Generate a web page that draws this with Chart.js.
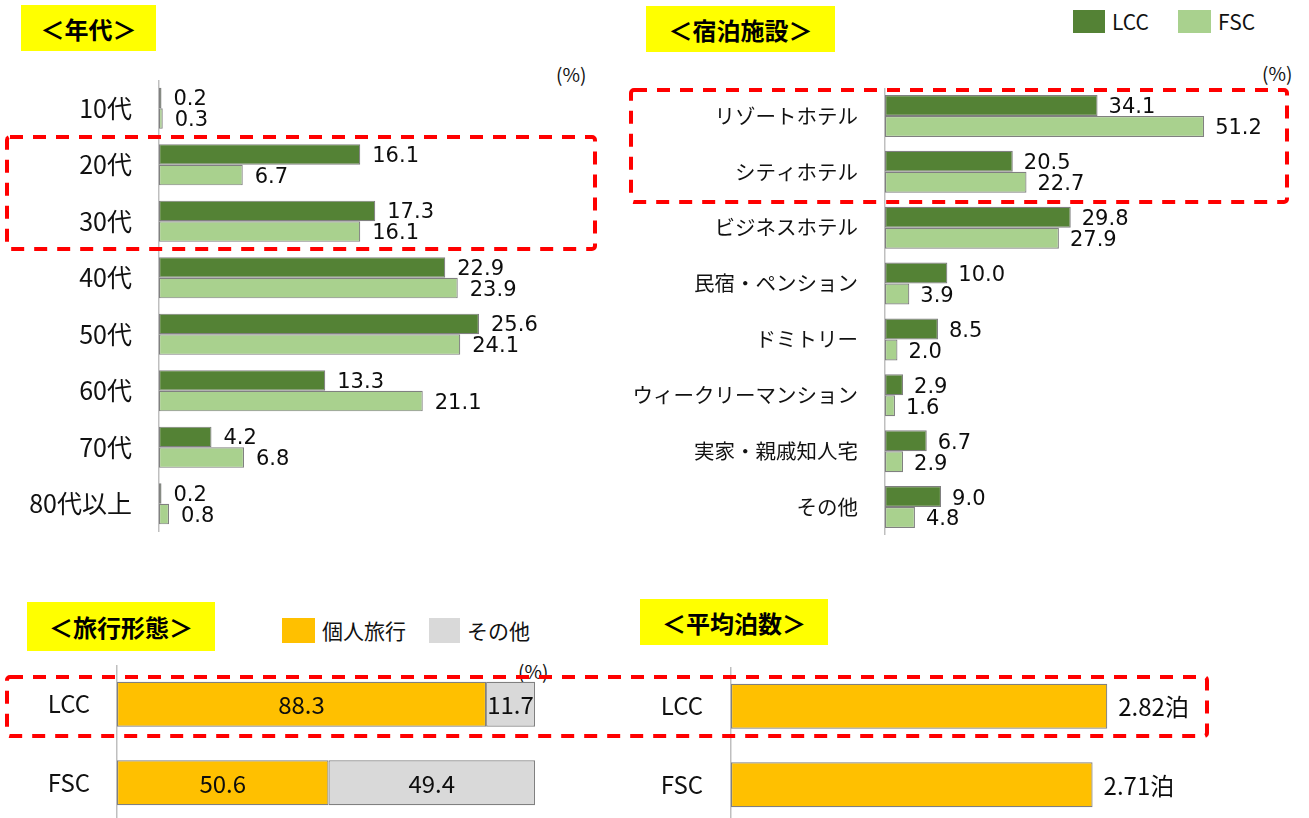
<!DOCTYPE html>
<html><head><meta charset="utf-8">
<script src="https://cdn.jsdelivr.net/npm/chart.js@4.4.1/dist/chart.umd.min.js"></script>
<style>
html,body{margin:0;padding:0;background:#fff;width:1309px;height:818px;overflow:hidden;position:relative;font-family:"Noto Sans CJK JP",sans-serif;color:#111}
canvas{position:absolute}
.title{position:absolute;background:#ffff00;font-weight:700;font-size:24px;display:flex;align-items:center;justify-content:center;color:#000;letter-spacing:0}
.lg{position:absolute;font-size:21px;line-height:26px;white-space:nowrap;color:#111}
.sw{position:absolute}
.pct{position:absolute;font-size:19px;line-height:20px;color:#111}
svg{position:absolute;left:0;top:0;pointer-events:none}
</style></head><body>

<div class="title" style="left:21px;top:5px;width:135px;height:46px">＜年代＞</div>
<div class="title" style="left:646px;top:6px;width:189px;height:46px">＜宿泊施設＞</div>
<div class="title" style="left:27px;top:602px;width:188px;height:49px">＜旅行形態＞</div>
<div class="title" style="left:640px;top:599px;width:188px;height:46px">＜平均泊数＞</div>

<div class="sw" style="left:1073px;top:10px;width:32px;height:23px;background:#548235"></div>
<div class="lg" style="left:1112px;top:8px">LCC</div>
<div class="sw" style="left:1178px;top:10px;width:33px;height:23px;background:#a9d18e"></div>
<div class="lg" style="left:1218px;top:8px">FSC</div>

<div class="sw" style="left:282px;top:618px;width:33px;height:25px;background:#ffc000"></div>
<div class="lg" style="left:322px;top:617px">個人旅行</div>
<div class="sw" style="left:429px;top:618px;width:31px;height:25px;background:#d9d9d9"></div>
<div class="lg" style="left:467px;top:617px">その他</div>

<div class="pct" style="left:556px;top:64px">(%)</div>
<div class="pct" style="left:1262px;top:63px">(%)</div>
<div class="pct" style="left:518px;top:661px">(%)</div>

<canvas id="cAge" width="600" height="452" style="left:0;top:80px"></canvas>
<canvas id="cStay" width="689" height="447" style="left:620px;top:88px"></canvas>
<canvas id="cStyle" width="600" height="157" style="left:0;top:665px"></canvas>
<canvas id="cNights" width="709" height="157" style="left:600px;top:667px"></canvas>

<svg width="1309" height="818">
  <g fill="none" stroke="#ff0000" stroke-width="4" stroke-dasharray="13 10">
    <rect x="7" y="137" width="588" height="112" rx="3"/>
    <rect x="631" y="90" width="656" height="112" rx="3"/>
    <rect x="7" y="677" width="1200" height="59" rx="3"/>
  </g>
</svg>

<script>
// ---- data ----
const ageCategories = ['10代','20代','30代','40代','50代','60代','70代','80代以上'];
const ageLCC = [0.2, 16.1, 17.3, 22.9, 25.6, 13.3, 4.2, 0.2];
const ageFSC = [0.3, 6.7, 16.1, 23.9, 24.1, 21.1, 6.8, 0.8];

const stayCategories = ['リゾートホテル','シティホテル','ビジネスホテル','民宿・ペンション','ドミトリー','ウィークリーマンション','実家・親戚知人宅','その他'];
const stayLCC = [34.1, 20.5, 29.8, 10.0, 8.5, 2.9, 6.7, 9.0];
const stayFSC = [51.2, 22.7, 27.9, 3.9, 2.0, 1.6, 2.9, 4.8];

const styleCategories = ['LCC','FSC'];
const styleIndividual = [88.3, 50.6];
const styleOther = [11.7, 49.4];

const nightsCategories = ['LCC','FSC'];
const nightsValues = [2.82, 2.71];

const seriesNames = ['LCC','FSC'];
const styleSeriesNames = ['個人旅行','その他'];

// ---- helpers ----
const CJK = '"Noto Sans CJK JP", "Noto Sans", sans-serif';
const GREEN_DARK = '#548235', GREEN_LIGHT = '#a9d18e', ORANGE = '#ffc000', GRAY = '#d9d9d9', EDGE = '#808080';

function makeLabels(cfg) {
  function draw(chart, phase) {
    const ctx = chart.ctx;
    chart.data.datasets.forEach((ds, di) => {
      const ph = (cfg.phase && cfg.phase[di]) || 'after';
      if (ph !== phase) return;
      const meta = chart.getDatasetMeta(di);
      meta.data.forEach((bar, i) => {
        const txt = cfg.format(ds.data[i]);
        ctx.save();
        ctx.font = cfg.font;
        ctx.fillStyle = '#0d0d0d';
        ctx.textBaseline = 'middle';
        if (cfg.center) {
          ctx.textAlign = 'center';
          ctx.fillText(txt, (bar.x + bar.base) / 2, bar.y + (cfg.dy || 0));
        } else {
          ctx.textAlign = 'left';
          ctx.fillText(txt, bar.x + cfg.offset, bar.y + (cfg.dy || 0));
        }
        ctx.restore();
      });
    });
  }
  return {
    id: 'valueLabels',
    beforeDatasetsDraw(chart) { draw(chart, 'before'); },
    afterDatasetsDraw(chart) { draw(chart, 'after'); }
  };
}

function yAxis(width, size, pad) {
  return {
    afterFit(s) { s.width = width; s.paddingTop = 0; s.paddingBottom = 0; },
    grid: { display: false, drawTicks: false },
    border: { display: true, color: '#bfbfbf', width: 1.5 },
    ticks: { padding: pad, color: '#111', autoSkip: false, font: { family: CJK, size: size } }
  };
}

const common = {
  indexAxis: 'y',
  responsive: false,
  animation: false,
  events: [],
  plugins: { legend: { display: false }, tooltip: { enabled: false } }
};

// ---- 年代 ----
new Chart(document.getElementById('cAge'), {
  type: 'bar',
  data: {
    labels: ageCategories,
    datasets: [
      { label: seriesNames[0], data: ageLCC, backgroundColor: GREEN_DARK, borderColor: EDGE, borderWidth: 1.2, borderSkipped: false, categoryPercentage: 0.73, barPercentage: 1 },
      { label: seriesNames[1], data: ageFSC, backgroundColor: GREEN_LIGHT, borderColor: EDGE, borderWidth: 1.2, borderSkipped: false, categoryPercentage: 0.73, barPercentage: 1 }
    ]
  },
  options: Object.assign({}, common, {
    layout: { padding: { left: 0, right: 66, top: 0, bottom: 0 } },
    scales: { x: { display: false, min: 0, max: 30 }, y: yAxis(159, 25, 27) }
  }),
  plugins: [makeLabels({ format: v => v.toFixed(1), font: '21px "DejaVu Sans"', offset: 12, dy: 2, phase: ['before', 'after'] })]
});

// ---- 宿泊施設 ----
new Chart(document.getElementById('cStay'), {
  type: 'bar',
  data: {
    labels: stayCategories,
    datasets: [
      { label: seriesNames[0], data: stayLCC, backgroundColor: GREEN_DARK, borderColor: EDGE, borderWidth: 1.2, borderSkipped: false, categoryPercentage: 0.75, barPercentage: 1 },
      { label: seriesNames[1], data: stayFSC, backgroundColor: GREEN_LIGHT, borderColor: EDGE, borderWidth: 1.2, borderSkipped: false, categoryPercentage: 0.75, barPercentage: 1 }
    ]
  },
  options: Object.assign({}, common, {
    layout: { padding: { left: 0, right: 50, top: 0, bottom: 0 } },
    scales: { x: { display: false, min: 0, max: 60 }, y: yAxis(265, 20.5, 27) }
  }),
  plugins: [makeLabels({ format: v => v.toFixed(1), font: '21px "DejaVu Sans"', offset: 11, dy: 2.5, phase: ['before', 'after'] })]
});

// ---- 旅行形態 ----
new Chart(document.getElementById('cStyle'), {
  type: 'bar',
  data: {
    labels: styleCategories,
    datasets: [
      { label: styleSeriesNames[0], data: styleIndividual, backgroundColor: ORANGE, borderColor: EDGE, borderWidth: 1.2, borderSkipped: false, categoryPercentage: 0.573, barPercentage: 1 },
      { label: styleSeriesNames[1], data: styleOther, backgroundColor: GRAY, borderColor: EDGE, borderWidth: 1.2, borderSkipped: false, categoryPercentage: 0.573, barPercentage: 1 }
    ]
  },
  options: Object.assign({}, common, {
    layout: { padding: { left: 0, right: 65, top: 0, bottom: 0 } },
    scales: { x: { display: false, min: 0, max: 100, stacked: true }, y: Object.assign(yAxis(117, 24, 27), { stacked: true }) }
  }),
  plugins: [makeLabels({ format: v => v.toFixed(1), font: '24px ' + CJK, center: true, dy: 1 })]
});

// ---- 平均泊数 ----
new Chart(document.getElementById('cNights'), {
  type: 'bar',
  data: {
    labels: nightsCategories,
    datasets: [
      { label: '平均泊数', data: nightsValues, backgroundColor: ORANGE, borderColor: EDGE, borderWidth: 1.2, borderSkipped: false, categoryPercentage: 0.573, barPercentage: 1 }
    ]
  },
  options: Object.assign({}, common, {
    layout: { padding: { left: 0, right: 111, top: 0, bottom: 0 } },
    scales: { x: { display: false, min: 0, max: 3.5 }, y: yAxis(131, 24, 28) }
  }),
  plugins: [makeLabels({ format: v => v.toFixed(2) + '泊', font: '24px ' + CJK, offset: 11, dy: 1 })]
});
</script>
</body></html>
